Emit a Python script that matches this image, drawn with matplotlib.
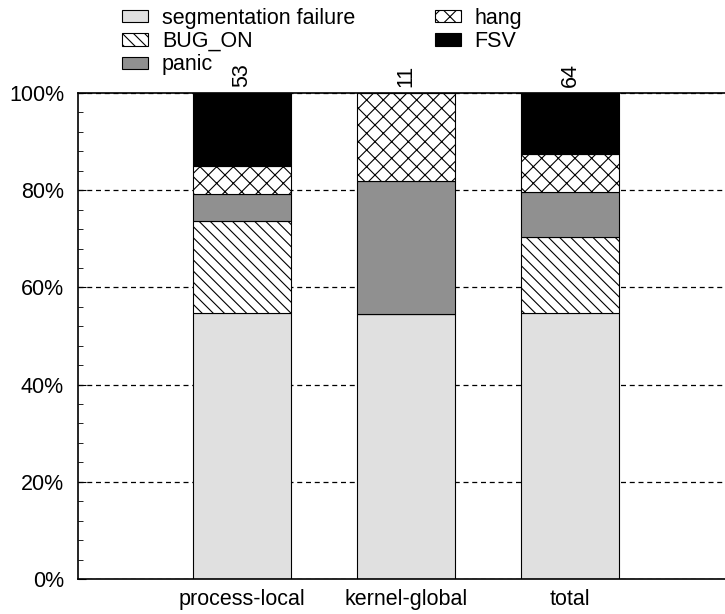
import matplotlib
matplotlib.use("Agg")
import matplotlib.pyplot as plt
from matplotlib.ticker import MultipleLocator, FuncFormatter
import numpy as np

categories = ["process-local", "kernel-global", "total"]
totals = [53, 11, 64]
series_names = ["segmentation failure", "BUG_ON", "panic", "hang", "FSV"]
seg_fault = [29, 6, 35]
bug_on = [10, 0, 10]
panic = [3, 3, 6]
hang = [3, 2, 5]
fsv = [8, 0, 8]

colors = ["#e0e0e0", "white", "#909090", "white", "black"]
hatches = [None, "\\\\\\", None, "xx", None]

plt.rcParams["font.family"] = ["Liberation Sans", "DejaVu Sans"]
plt.rcParams["hatch.linewidth"] = 0.8
FS = 15.5

fig = plt.figure(figsize=(7.25, 6.14), dpi=100)
ax = fig.add_axes([78 / 725, 35 / 614, 660 / 725, 486 / 614])

x = np.arange(1, len(categories) + 1)
series = [seg_fault, bug_on, panic, hang, fsv]
bottom = np.zeros(len(categories))
tot = np.array(totals, dtype=float)
handles = []
for name, vals, col, h in zip(series_names, series, colors, hatches):
    pct = np.array(vals) / tot * 100
    b = ax.bar(x, pct, 0.6, bottom=bottom, color=col, edgecolor="black",
               linewidth=0.8, hatch=h, label=name, zorder=2)
    handles.append(b)
    bottom += pct

for xi, n in zip(x, totals):
    ax.annotate(str(n), (xi, 100), xytext=(0, 4), textcoords="offset points",
                rotation=90, ha="center", va="bottom", fontsize=FS)

ax.set_xlim(0, 660 / 164)
ax.set_ylim(0, 100)
ax.set_xticks(x)
ax.set_xticklabels(categories, fontsize=FS)
ax.tick_params(axis="x", length=0, pad=7)
ax.yaxis.set_major_locator(MultipleLocator(20))
ax.yaxis.set_minor_locator(MultipleLocator(4))
ax.yaxis.set_major_formatter(FuncFormatter(lambda v, p: f"{int(v)}%"))
ax.tick_params(axis="y", which="major", direction="in", length=6, pad=10,
               labelsize=FS)
ax.tick_params(axis="y", which="minor", direction="in", length=3.5)
ax.yaxis.grid(True, which="major", linestyle=(0, (4, 3)), color="black",
              linewidth=0.9, zorder=0)
ax.set_axisbelow(True)
for s in ax.spines.values():
    s.set_linewidth(1.2)

leg = fig.legend(handles=handles, loc="upper left", ncol=2, frameon=False,
                 bbox_to_anchor=(122 / 725, 1 - 8 / 614), fontsize=FS,
                 handlelength=1.2, handleheight=0.5, handletextpad=0.65,
                 columnspacing=3.7, labelspacing=0.1, borderpad=0,
                 borderaxespad=0)

fig.savefig("out.png", dpi=100)
